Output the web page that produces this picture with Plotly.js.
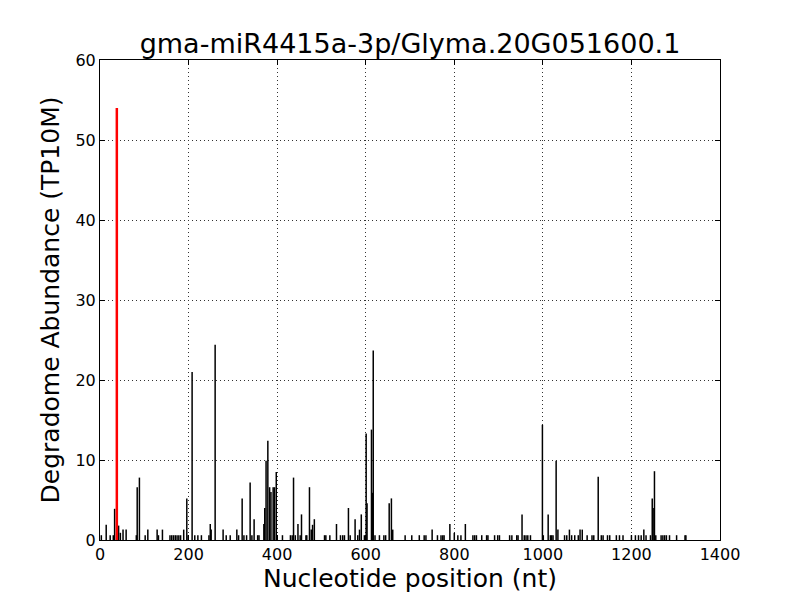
<!DOCTYPE html>
<html>
<head>
<meta charset="utf-8">
<script src="https://cdn.plot.ly/plotly-3.0.1.min.js"></script>
<style>html,body{margin:0;padding:0;background:#fff;}#chart{width:800px;height:600px;}</style>
</head>
<body>
<div id="chart"></div>
<script>
// Degradome reads: nucleotide position (nt) and abundance (TP10M)
const positions = [
  3, 14, 23, 30, 33, 42, 46, 52, 59, 82, 84, 89, 102, 108, 129, 132, 141, 158, 162, 166, 170, 174, 178, 182, 189, 196, 199, 208, 214, 221, 229,
  246, 249, 251, 260, 278, 285, 294, 309, 313, 321, 325, 331, 339, 343, 348, 356, 359, 370, 372, 375, 379, 383, 386, 391, 394, 398, 412, 430, 434, 437, 441, 447, 452, 455, 465,
  467, 473, 477, 480, 484, 507, 510, 519, 534, 543, 548, 552, 561, 565, 576, 582, 586, 590, 597, 601, 603, 613, 615, 617, 621, 631, 641, 645, 653, 658, 661, 689, 704,
  721, 732, 736, 750, 762, 770, 774, 777, 790, 800, 808, 815, 825, 842, 846, 850, 862, 873, 876, 891, 898, 902, 925, 930,
  941, 944, 953, 958, 962, 966, 972, 999, 1001, 1012, 1017, 1020, 1023, 1030, 1034, 1049, 1054, 1060, 1065, 1072, 1080, 1084, 1089, 1100, 1111, 1115, 1125, 1132, 1136, 1146, 1151, 1166,
  1173, 1181, 1200, 1209, 1216, 1222, 1228, 1233, 1243, 1247, 1249, 1252, 1255, 1267, 1271, 1275, 1279, 1286, 1302, 1321, 1323
];
const abundances = [
  0.6, 1.9, 0.6, 0.6, 3.9, 1.8, 0.9, 1.3, 1.3, 0.6, 6.6, 7.8, 0.6, 1.3, 1.3, 0.6, 1.3, 0.6, 0.6, 0.6, 0.6, 0.6, 0.6, 0.6, 1.3, 5.2, 0.6, 21.0, 0.6, 0.6, 0.6,
  0.6, 2.0, 1.3, 24.4, 1.3, 0.6, 0.6, 1.3, 0.6, 5.2, 0.6, 0.6, 7.2, 0.6, 2.6, 0.6, 0.6, 2.0, 4.0, 9.9, 12.4, 6.6, 6.0, 6.6, 6.6, 8.5, 0.6, 0.6, 0.6, 7.8, 0.6, 2.0, 0.6, 3.2, 0.6,
  0.6, 6.6, 1.3, 1.9, 2.6, 0.6, 0.6, 0.6, 2.0, 0.6, 0.6, 0.6, 4.0, 0.6, 2.6, 0.6, 1.3, 3.2, 0.6, 13.3, 4.6, 13.8, 5.9, 23.7, 0.6, 0.6, 0.6, 0.6, 4.6, 5.2, 1.3, 0.6, 0.6,
  0.6, 0.6, 0.6, 1.3, 0.6, 0.6, 0.6, 0.6, 2.0, 0.9, 0.6, 0.6, 2.0, 0.6, 0.6, 0.6, 0.6, 0.6, 0.6, 0.6, 0.6, 0.6, 0.6, 0.6,
  0.6, 0.6, 3.2, 0.6, 0.6, 0.6, 0.6, 14.4, 0.6, 3.2, 0.6, 0.6, 0.6, 9.9, 1.3, 0.6, 0.6, 1.3, 0.6, 0.6, 0.6, 1.3, 1.3, 0.6, 0.6, 0.6, 7.9, 0.6, 0.6, 0.6, 0.6, 0.6,
  0.6, 0.6, 0.6, 0.6, 0.6, 0.6, 1.3, 0.6, 0.6, 5.2, 4.0, 8.6, 0.6, 0.6, 0.6, 0.6, 0.6, 0.6, 0.6, 0.6, 0.6
];
// miRNA cleavage site
const cleavagePos = [38];
const cleavageVal = [54.0];

const xTicks = [0, 200, 400, 600, 800, 1000, 1200, 1400];
const yTicks = [0, 10, 20, 30, 40, 50, 60];

function stems(xs, ys) {
  const x = [], y = [];
  for (let i = 0; i < xs.length; i++) {
    x.push(xs[i], xs[i], null);
    y.push(0, ys[i], null);
  }
  return {x, y};
}

const black = stems(positions, abundances);
const red = stems(cleavagePos, cleavageVal);

const traces = [
  {type: 'scatter', mode: 'lines', x: black.x, y: black.y, line: {color: '#000', width: 1.5}, hoverinfo: 'skip', showlegend: false},
  {type: 'scatter', mode: 'lines', x: red.x, y: red.y, line: {color: '#ff0000', width: 2.5}, hoverinfo: 'skip', showlegend: false}
];

const axisCommon = {
  showline: true, linecolor: '#000', linewidth: 1, mirror: 'ticks',
  ticks: 'inside', ticklen: 5, tickcolor: '#000', tickwidth: 1,
  showgrid: true, gridcolor: '#333', gridwidth: 1, griddash: '1px,3px',
  zeroline: false, tickfont: {family: 'DejaVu Sans', size: 16, color: '#000'}
};

const layout = {
  width: 800, height: 600,
  margin: {l: 100, r: 80, t: 60, b: 60},
  paper_bgcolor: '#fff', plot_bgcolor: '#fff',
  title: {text: 'gma-miR4415a-3p/Glyma.20G051600.1', font: {family: 'DejaVu Sans', size: 27, color: '#000'}, x: 0.5125, xanchor: 'center', y: 0.928, yanchor: 'middle'},
  xaxis: Object.assign({}, axisCommon, {range: [0, 1400], tickvals: xTicks, ticktext: xTicks.map(String),
    title: {text: 'Nucleotide position (nt)', font: {family: 'DejaVu Sans', size: 25, color: '#000'}, standoff: 6}}),
  yaxis: Object.assign({}, axisCommon, {range: [0, 60], tickvals: yTicks, ticktext: yTicks.map(String),
    title: {text: 'Degradome Abundance (TP10M)', font: {family: 'DejaVu Sans', size: 25, color: '#000'}, standoff: 8}})
};

Plotly.newPlot('chart', traces, layout, {staticPlot: true, displayModeBar: false});
</script>
</body>
</html>
